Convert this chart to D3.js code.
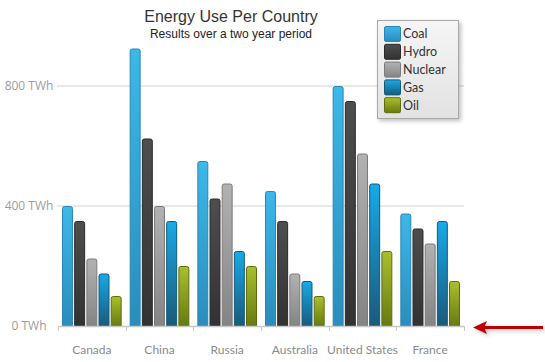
<!DOCTYPE html>
<html>
<head>
<meta charset="utf-8">
<script src="https://cdn.jsdelivr.net/npm/d3@7"></script>
<style>
  html, body { margin: 0; padding: 0; background: #fff; }
  svg { display: block; }
</style>
</head>
<body>
<svg id="chart" width="545" height="362"></svg>
<script>
const categories = ["Canada", "China", "Russia", "Australia", "United States", "France"];
const seriesNames = ["Coal", "Hydro", "Nuclear", "Gas", "Oil"];
const coal    = [400, 925, 550, 450, 800, 375];
const hydro   = [350, 625, 425, 350, 750, 325];
const nuclear = [225, 400, 475, 175, 575, 275];
const gas     = [175, 350, 250, 150, 475, 350];
const oil     = [100, 200, 200, 100, 250, 150];
const yTicks  = [0, 400, 800];
const yTickLabels = ["0 TWh", "400 TWh", "800 TWh"];
const titleText = "Energy Use Per Country";
const subtitleText = "Results over a two year period";

const seriesValues = [coal, hydro, nuclear, gas, oil];
const palette = [
  {top: "#3cb8ea", bottom: "#2a8dbb", stroke: "#2887b5"},
  {top: "#4e4e4e", bottom: "#323232", stroke: "#2a2a2a"},
  {top: "#b2b2b2", bottom: "#848484", stroke: "#7a7a7a"},
  {top: "#17aae8", bottom: "#1a5a7a", stroke: "#14587a"},
  {top: "#a8c02e", bottom: "#687a10", stroke: "#5e6e0e"}
];

const svg = d3.select("#chart");
const defs = svg.append("defs");

palette.forEach((p, i) => {
  const g = defs.append("linearGradient").attr("id", "grad" + i)
    .attr("x1", 0).attr("y1", 0).attr("x2", 0).attr("y2", 1);
  g.append("stop").attr("offset", "0%").attr("stop-color", p.top);
  g.append("stop").attr("offset", "100%").attr("stop-color", p.bottom);
  const s = defs.append("linearGradient").attr("id", "sw" + i)
    .attr("x1", 0).attr("y1", 0).attr("x2", 0).attr("y2", 1);
  s.append("stop").attr("offset", "0%").attr("stop-color", p.top);
  s.append("stop").attr("offset", "100%").attr("stop-color", p.bottom);
});
const lg = defs.append("linearGradient").attr("id", "legbg")
  .attr("x1", 0).attr("y1", 0).attr("x2", 0).attr("y2", 1);
lg.append("stop").attr("offset", "0%").attr("stop-color", "#f5f5f5");
lg.append("stop").attr("offset", "100%").attr("stop-color", "#e2e2e2");

const shadow = defs.append("filter").attr("id", "shadow")
  .attr("x", "-20%").attr("y", "-20%").attr("width", "150%").attr("height", "150%");
shadow.append("feDropShadow").attr("dx", 2).attr("dy", 2).attr("stdDeviation", 2)
  .attr("flood-color", "#000").attr("flood-opacity", 0.25);

const plotLeft = 58, plotRight = 464, plotTop = 26, plotBottom = 326;

const x = d3.scaleBand().domain(categories).range([plotLeft, plotRight]).padding(0);
const inner = d3.scaleBand().domain(seriesNames).range([4, x.bandwidth() - 4]).paddingInner(0.1);
const y = d3.scaleLinear().domain([0, 1000]).range([plotBottom, plotTop]);

// Gridlines
svg.append("g").selectAll("line")
  .data(yTicks.filter(d => d > 0))
  .join("line")
  .attr("x1", plotLeft - 1).attr("x2", plotRight)
  .attr("y1", d => y(d)).attr("y2", d => y(d))
  .attr("stroke", "#e0e0e0").attr("stroke-width", 1.5);

// Y labels
svg.append("g").selectAll("text")
  .data(yTicks)
  .join("text")
  .attr("x", 29).attr("y", d => y(d))
  .attr("dy", "0.35em")
  .attr("text-anchor", "middle")
  .attr("font-family", "'Open Sans', sans-serif")
  .attr("font-size", 12)
  .attr("fill", "#9c9c9c")
  .text((d, i) => yTickLabels[i]);

// Bars
const rounded = (x0, y0, w, h, r) => {
  r = Math.min(r, h, w / 2);
  return `M${x0},${y0 + h}V${y0 + r}Q${x0},${y0} ${x0 + r},${y0}H${x0 + w - r}Q${x0 + w},${y0} ${x0 + w},${y0 + r}V${y0 + h}Z`;
};
const barData = [];
categories.forEach((c, ci) => {
  seriesNames.forEach((s, si) => {
    barData.push({cat: c, series: s, si: si, value: seriesValues[si][ci]});
  });
});
svg.append("g").selectAll("path")
  .data(barData)
  .join("path")
  .attr("d", d => {
    const x0 = x(d.cat) + inner(d.series) + 0.5;
    const y0 = y(d.value) + 0.5;
    return rounded(x0, y0, inner.bandwidth() - 1, y(0) - y0, 2);
  })
  .attr("fill", d => `url(#grad${d.si})`)
  .attr("stroke", d => palette[d.si].stroke)
  .attr("stroke-width", 1);

// X axis
const xAxis = svg.append("g");
xAxis.append("line")
  .attr("x1", plotLeft).attr("x2", plotRight).attr("y1", plotBottom + 0.5).attr("y2", plotBottom + 0.5)
  .attr("stroke", "#c8c8c8").attr("stroke-width", 1.5);
const boundaries = categories.map(c => x(c)).concat([x(categories[categories.length - 1]) + x.bandwidth()]);
xAxis.selectAll("line.tick")
  .data(boundaries)
  .join("line").attr("class", "tick")
  .attr("x1", d => Math.round(d) + 0.5).attr("x2", d => Math.round(d) + 0.5)
  .attr("y1", plotBottom).attr("y2", plotBottom + 5)
  .attr("stroke", "#c8c8c8").attr("stroke-width", 1);
xAxis.selectAll("text")
  .data(categories)
  .join("text")
  .attr("x", d => x(d) + x.bandwidth() / 2)
  .attr("y", 354)
  .attr("text-anchor", "middle")
  .attr("font-family", "Lato, 'Open Sans', sans-serif")
  .attr("font-size", 12)
  .attr("fill", "#8a8a8a")
  .text(d => d);

// Title
svg.append("text")
  .attr("x", 231).attr("y", 22)
  .attr("text-anchor", "middle")
  .attr("font-family", "'Liberation Sans', Arial, sans-serif")
  .attr("font-size", 16)
  .attr("fill", "#333")
  .text(titleText);
svg.append("text")
  .attr("x", 231).attr("y", 38)
  .attr("text-anchor", "middle")
  .attr("font-family", "'Liberation Sans', Arial, sans-serif")
  .attr("font-size", 12)
  .attr("fill", "#222")
  .text(subtitleText);

// Legend
const legend = svg.append("g");
legend.append("rect")
  .attr("x", 377.5).attr("y", 20.5).attr("width", 81).attr("height", 98)
  .attr("fill", "url(#legbg)").attr("stroke", "#a8a8a8").attr("stroke-width", 1)
  .attr("filter", "url(#shadow)");
const items = legend.selectAll("g.item")
  .data(seriesNames)
  .join("g").attr("class", "item")
  .attr("transform", (d, i) => `translate(0, ${34 + i * 17.8})`);
items.append("rect")
  .attr("x", 384.5).attr("y", -7.5).attr("width", 16).attr("height", 15).attr("rx", 1.5)
  .attr("fill", (d, i) => `url(#sw${i})`)
  .attr("stroke", (d, i) => palette[i].stroke).attr("stroke-width", 1);
items.append("text")
  .attr("x", 403).attr("y", 0).attr("dy", "0.35em")
  .attr("font-family", "Lato, 'Open Sans', sans-serif")
  .attr("font-size", 12.5)
  .attr("fill", "#333")
  .text(d => d);

// Red arrow
const arrow = svg.append("g").attr("filter", "url(#shadow)");
arrow.append("line")
  .attr("x1", 482).attr("x2", 543).attr("y1", 327.5).attr("y2", 327.5)
  .attr("stroke", "#c00000").attr("stroke-width", 3);
arrow.append("path")
  .attr("d", "M473,327.5L487,321L484,327.5L487,334Z")
  .attr("fill", "#c00000");
</script>
</body>
</html>
